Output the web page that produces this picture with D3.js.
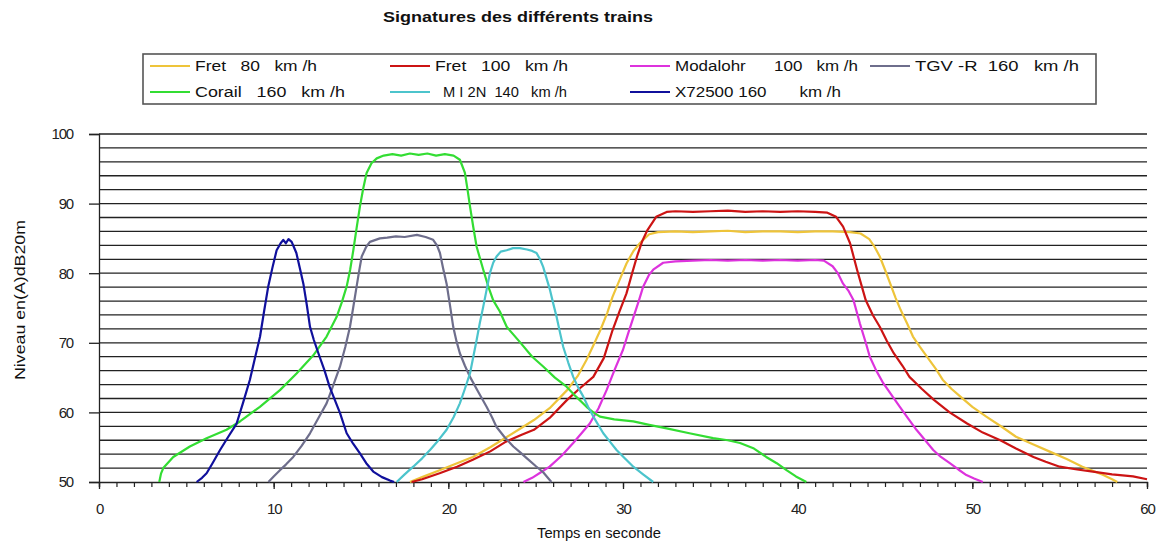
<!DOCTYPE html>
<html><head><meta charset="utf-8">
<script src="https://cdn.jsdelivr.net/npm/d3@7"></script>
<style>
html,body{margin:0;padding:0;background:#fff;}
svg{display:block;font-family:"Liberation Sans",Arial,sans-serif;}
</style></head>
<body>
<svg id="chart" width="1160" height="543"></svg>
<script>
// ---------- DATA ----------
const seriesNames = ["Fret   80   km /h","Fret   100   km /h","Modalohr      100   km /h","TGV -R  160   km /h","Corail   160   km /h","M I 2N  140   km /h","X72500 160       km /h"];
const xTicks = [0,10,20,30,40,50,60];
const yTicks = [50,60,70,80,90,100];

const fret80 = [[17.8,50],[18.5,50.7],[19.5,51.7],[20.5,52.7],[21.4,53.6],[22.4,55.0],[23.3,56.4],[24.2,57.8],[24.9,58.9],[25.8,60.6],[26.8,63.2],[27.4,65.2],[27.9,67.5],[28.3,69.6],[28.7,71.8],[29.1,74.3],[29.4,76.6],[29.8,79.0],[30.2,81.4],[30.6,83.2],[31.0,84.4],[31.5,85.6],[32.0,85.9],[33,86.0],[34,85.9],[35,86.0],[36,86.1],[37,85.9],[38,86.0],[39,86.0],[40,85.9],[41,86.0],[42,86.0],[43,85.9],[43.6,85.7],[44.1,84.9],[44.4,83.8],[44.7,82.4],[45.0,80.5],[45.3,78.5],[45.6,76.5],[45.9,74.7],[46.3,72.6],[46.6,70.9],[47.0,69.4],[47.4,68.0],[47.9,66.3],[48.3,64.7],[48.8,63.4],[49.3,62.3],[50.0,60.8],[50.8,59.4],[51.7,57.9],[52.5,56.5],[53.5,55.4],[54.4,54.4],[55.4,53.3],[56.3,52.2],[57.0,51.5],[57.5,51.0],[58.0,50.4],[58.3,50]];
const fret100 = [[17.9,50],[18.5,50.4],[19.5,51.25],[20.5,52.2],[21.4,53.2],[22.4,54.4],[23.3,55.8],[24.2,56.8],[24.9,57.5],[25.8,59.2],[26.8,61.8],[27.5,63.4],[28.3,65.1],[28.9,67.8],[29.4,71.8],[29.8,74.5],[30.2,77.1],[30.5,79.8],[30.8,82.4],[31.1,84.6],[31.4,86.2],[31.9,88.1],[32.5,88.8],[33,88.9],[34,88.8],[35,88.9],[36,89.0],[37,88.8],[38,88.9],[39,88.8],[40,88.9],[41,88.8],[41.7,88.7],[42.2,88.1],[42.6,86.7],[43.0,84.3],[43.4,80.5],[43.9,76.1],[44.3,74.0],[44.7,72.3],[45.1,70.3],[45.5,68.5],[46.0,66.7],[46.4,65.1],[47.1,63.4],[47.8,61.8],[48.7,60.0],[49.7,58.4],[50.6,57.1],[51.6,56.0],[52.5,54.8],[53.5,53.6],[54.2,52.9],[55.0,52.2],[56.0,51.8],[56.9,51.5],[58.0,51.1],[59.2,50.8],[60,50.4]];
const modalohr = [[24.3,50],[24.8,50.6],[25.3,51.4],[25.8,52.2],[26.5,53.8],[27.15,55.6],[28.1,58.4],[28.6,60.6],[29.06,63.2],[29.5,66.0],[30.0,69.0],[30.3,71.4],[30.6,73.7],[30.9,76.0],[31.16,78.1],[31.5,79.8],[31.73,80.5],[32.3,81.5],[33,81.7],[34,81.8],[35,81.9],[36,81.8],[37,81.9],[38,81.8],[39,81.9],[40,81.8],[41,81.9],[41.5,81.8],[42.0,81.0],[42.3,80.0],[42.6,78.5],[42.9,77.5],[43.2,76.1],[43.56,72.8],[43.9,70.0],[44.13,68.0],[44.5,66.0],[44.9,64.2],[45.4,62.4],[45.85,60.8],[46.3,59.2],[46.8,57.5],[47.3,56.0],[47.76,54.6],[48.2,53.6],[48.71,52.7],[49.2,51.8],[49.66,51.0],[50.1,50.5],[50.6,50]];
const tgvR = [[9.7,50],[10.0,50.8],[10.36,51.7],[10.7,52.5],[11.12,53.6],[11.6,55.2],[12.08,57.0],[12.5,58.9],[13.03,61.3],[13.4,63.8],[13.8,66.6],[14.1,69.4],[14.37,72.3],[14.55,75.0],[14.75,78.1],[14.9,80.4],[15.04,82.4],[15.3,83.8],[15.51,84.5],[16.08,85.0],[16.5,85.1],[17,85.3],[17.5,85.2],[18.2,85.5],[18.7,85.2],[19.13,84.8],[19.35,84.0],[19.52,82.9],[19.7,80.7],[19.9,78.5],[20.1,75.3],[20.28,72.3],[20.47,70.2],[20.66,68.5],[20.95,66.7],[21.24,65.1],[21.7,63.0],[22.19,60.8],[22.5,59.3],[22.76,57.9],[23.2,56.5],[23.72,55.1],[24.1,54.3],[24.5,53.4],[25.0,52.3],[25.43,51.4],[25.9,50]];
const corail = [[3.45,50],[3.55,51.2],[3.68,52],[4.25,53.6],[5.2,55.1],[6.16,56.3],[7.3,57.5],[8.07,58.7],[9.21,60.8],[10.36,63.2],[11.31,65.6],[12.27,68.2],[13.03,70.9],[13.6,73.7],[13.9,75.8],[14.18,78.1],[14.38,80.5],[14.56,83.3],[14.75,86.5],[14.94,89.6],[15.13,92.2],[15.32,94.4],[15.6,95.8],[15.9,96.5],[16.3,96.9],[16.8,97.1],[17.3,96.9],[17.8,97.2],[18.3,97.0],[18.8,97.2],[19.3,96.9],[19.8,97.1],[20.3,96.9],[20.66,96.3],[20.8,95.4],[20.95,94.4],[21.1,92.0],[21.24,89.6],[21.43,86.6],[21.62,83.8],[22.0,80.5],[22.3,78.0],[22.57,76.1],[22.95,74.5],[23.34,72.3],[24.1,70.1],[24.8,68.0],[25.43,66.6],[26.1,65.0],[26.77,63.7],[27.3,62.3],[27.91,60.8],[28.3,60.0],[28.68,59.4],[29.5,59.0],[30.59,58.7],[31.5,58.2],[32.5,57.7],[33.8,57.0],[35.16,56.3],[36.0,56.0],[36.7,55.6],[37.5,54.8],[38.2,53.6],[38.8,52.7],[39.36,51.7],[39.9,50.8],[40.5,50]];
const mi2n = [[17.04,50],[17.5,51.1],[17.99,52.2],[18.5,53.4],[18.95,54.6],[19.4,55.9],[19.9,57.5],[20.3,59.3],[20.66,61.3],[20.95,63.4],[21.24,65.6],[21.43,68.0],[21.62,70.4],[21.8,72.8],[22.0,75.2],[22.19,77.6],[22.38,80.0],[22.57,81.5],[22.76,82.4],[23.0,83.1],[23.34,83.3],[23.7,83.6],[24.1,83.6],[24.5,83.4],[24.8,83.2],[25.05,82.9],[25.25,82.0],[25.43,80.9],[25.62,79.3],[25.82,77.6],[26.0,75.7],[26.2,73.7],[26.39,71.5],[26.58,69.4],[26.86,67.2],[27.15,65.1],[27.43,63.6],[27.72,62.3],[28.0,60.8],[28.3,59.4],[28.87,57.0],[29.25,55.8],[29.63,54.6],[30.1,53.4],[30.59,52.2],[31.15,51.1],[31.73,50]];
const x72500 = [[5.59,50],[5.9,50.6],[6.16,51.25],[6.5,52.7],[6.93,54.6],[7.4,56.5],[7.88,58.4],[8.25,61.4],[8.64,64.7],[8.93,67.8],[9.22,70.9],[9.45,74.5],[9.69,78.1],[9.93,80.8],[10.17,83.3],[10.4,84.3],[10.55,84.8],[10.7,84.3],[10.85,84.9],[11.03,84.5],[11.15,83.8],[11.3,82.9],[11.5,80.7],[11.7,78.5],[11.9,75.4],[12.08,72.3],[12.3,70.4],[12.56,68.5],[12.9,66.1],[13.2,63.7],[13.5,61.8],[13.8,59.9],[14.18,57.0],[14.55,55.5],[14.94,54.1],[15.3,52.7],[15.7,51.5],[16.2,50.7],[16.66,50.2],[16.9,50]];

const seriesData = [fret80, fret100, modalohr, tgvR, corail, mi2n, x72500];
const seriesColors = ["#EEC43A","#CC1414","#DD33DD","#6E6E8C","#33DD33","#4CC4CC","#10109C"];

// ---------- LAYOUT ----------
const svg = d3.select("#chart");
svg.append("rect").attr("width",1160).attr("height",543).attr("fill","#fff");
const L = 99, R = 1147, T = 134, B = 482;
const x = d3.scaleLinear().domain([0,60]).range([L,R]);
const y = d3.scaleLinear().domain([50,100]).range([B,T]);

// gridlines every 2 dB
const grid = svg.append("g");
grid.selectAll("line").data(d3.range(52,101,2)).join("line")
  .attr("x1",L).attr("x2",R).attr("y1",d=>y(d)).attr("y2",d=>y(d))
  .attr("stroke","#222").attr("stroke-width",1.3);

// y axis
const yAxis = svg.append("g").attr("transform",`translate(${L},0)`)
  .call(d3.axisLeft(y).tickValues(yTicks).tickSize(10).tickPadding(16).tickFormat(d3.format("d")));
yAxis.select(".domain").attr("stroke","#222").attr("stroke-width",1.3);
yAxis.selectAll(".tick line").attr("stroke","#222").attr("stroke-width",1.3);
yAxis.selectAll("text").attr("font-size",15).attr("fill","#222").attr("letter-spacing","-1.2");

// x axis minor ticks
const xMinor = svg.append("g").attr("transform",`translate(0,${B})`)
  .call(d3.axisBottom(x).tickValues(d3.range(0,61,1)).tickSize(5).tickFormat(""));
xMinor.select(".domain").attr("stroke","#222").attr("stroke-width",1.3);
xMinor.selectAll(".tick line").attr("stroke","#222").attr("stroke-width",1.2);
const xAxis = svg.append("g").attr("transform",`translate(0,${B})`)
  .call(d3.axisBottom(x).tickValues(xTicks).tickSize(7).tickPadding(14).tickFormat(d3.format("d")));
xAxis.select(".domain").remove();
xAxis.selectAll(".tick line").attr("stroke","#222").attr("stroke-width",1.3);
xAxis.selectAll("text").attr("font-size",15).attr("fill","#222").attr("letter-spacing","-1.2");

// series
const line = d3.line().x(d=>x(d[0])).y(d=>y(d[1]));
svg.append("g").selectAll("path").data(seriesData).join("path")
  .attr("d",line).attr("fill","none")
  .attr("stroke",(d,i)=>seriesColors[i]).attr("stroke-width",2.2)
  .attr("stroke-linejoin","round");

// title
svg.append("text").attr("x",383).attr("y",22).attr("font-size",15).attr("font-weight","bold")
  .attr("textLength",270).attr("lengthAdjust","spacingAndGlyphs").attr("fill","#111")
  .text("Signatures des différents trains");

// legend
svg.append("rect").attr("x",143).attr("y",54).attr("width",953).attr("height",50)
  .attr("fill","#fff").attr("stroke","#555").attr("stroke-width",1.6);
const legPos = [[150,66,122],[390,66,133],[630,66,183],[870,66,164],[150,92,150],[390,92,124],[630,92,166]];
const leg = svg.append("g").selectAll("g").data(seriesNames).join("g")
  .attr("transform",(d,i)=>`translate(${legPos[i][0]},${legPos[i][1]})`);
leg.append("line").attr("x1",0).attr("x2",40).attr("y1",0).attr("y2",0)
  .attr("stroke",(d,i)=>seriesColors[i]).attr("stroke-width",2.2);
leg.append("text").attr("x",(d,i)=> i===5 ? 53 : 45).attr("y",5).attr("font-size",14).attr("fill","#111")
  .attr("xml:space","preserve").style("white-space","pre")
  .attr("textLength",(d,i)=>legPos[i][2]).attr("lengthAdjust","spacingAndGlyphs")
  .text(d=>d);

// axis titles
svg.append("text").attr("transform","translate(25,300) rotate(-90)").attr("text-anchor","middle")
  .attr("font-size",15).attr("fill","#111").attr("textLength",160).attr("lengthAdjust","spacingAndGlyphs")
  .text("Niveau en(A)dB20m");
svg.append("text").attr("x",537).attr("y",538).attr("font-size",14).attr("fill","#111")
  .attr("textLength",124).attr("lengthAdjust","spacingAndGlyphs")
  .text("Temps en seconde");
</script>
</body></html>
